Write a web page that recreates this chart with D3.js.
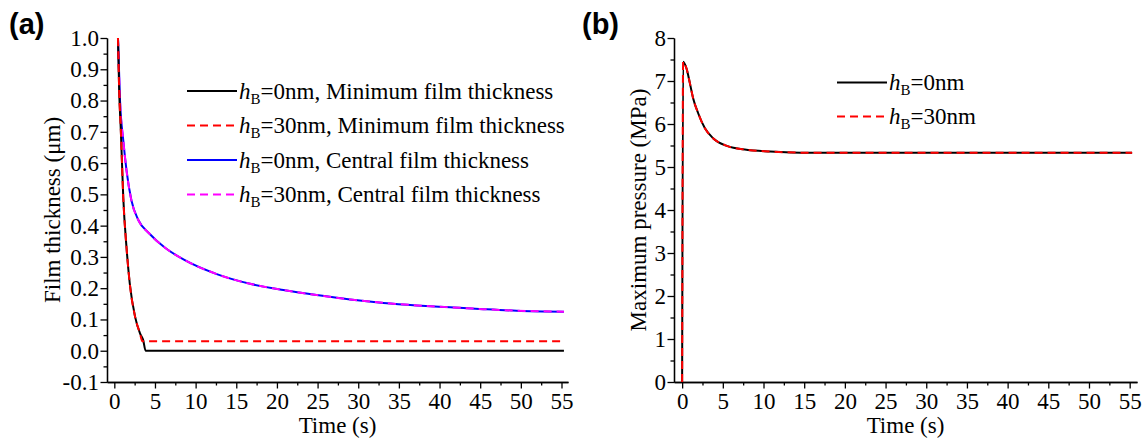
<!DOCTYPE html>
<html>
<head>
<meta charset="utf-8"/>
<title>Film thickness and maximum pressure</title>
<script src="https://d3js.org/d3.v7.min.js"></script>
<style>
  body { margin: 0; background: white; }
  svg { display: block; }
  text { font-family: "Liberation Serif", "Times New Roman", serif; fill: black; }
  .axis path, .axis line { stroke: black; stroke-width: 1.3; }
  .axis text { font-size: 23px; font-family: "Liberation Serif", serif; }
  .panel { font-family: "Liberation Sans", Arial, sans-serif; font-weight: bold; font-size: 29px; }
</style>
</head>
<body>
<svg id="chart" width="1143" height="439"></svg>
<script>
// ---- data ----
// (a) minimum film thickness
var tMin0  = [0.45, 0.6, 0.8, 1.1, 1.5, 1.9, 2.55, 3.15, 3.55, 3.85, 55.3];
var hMin0  = [1.0, 0.83, 0.705, 0.49, 0.33, 0.215, 0.109, 0.056, 0.034, 0.0, 0.0];
var tMin30 = [0.45, 0.6, 0.8, 1.1, 1.5, 1.9, 2.55, 3.15, 3.45, 55.3];
var hMin30 = [1.0, 0.83, 0.705, 0.49, 0.33, 0.215, 0.109, 0.056, 0.03, 0.03];
// (a) central film thickness (both cases overlap)
var tCen   = [0.45, 0.7, 1.1, 1.5, 2.1, 2.95, 4.3, 6.2, 8.5, 12.6, 16.7, 20.8, 24.9, 29, 33.1, 37.2, 41.3, 45.4, 49.5, 55.3];
var hCen0  = [1.0, 0.80, 0.673, 0.577, 0.481, 0.418, 0.375, 0.330, 0.292, 0.245, 0.214, 0.194, 0.178, 0.164, 0.153, 0.145, 0.139, 0.133, 0.128, 0.125];
var hCen30 = [1.0, 0.80, 0.673, 0.577, 0.481, 0.418, 0.375, 0.330, 0.292, 0.245, 0.214, 0.194, 0.178, 0.164, 0.153, 0.145, 0.139, 0.133, 0.128, 0.125];
// (b) maximum pressure
var tP     = [0, 0.12, 0.54, 0.95, 1.35, 1.97, 2.8, 3.8, 5.5, 7.9, 10.8, 15.7, 55.3];
var pMax0  = [0, 7.45, 7.29, 6.95, 6.60, 6.25, 5.90, 5.67, 5.49, 5.40, 5.36, 5.33, 5.33];
var pMax30 = [0, 7.45, 7.29, 6.95, 6.60, 6.25, 5.90, 5.67, 5.49, 5.40, 5.36, 5.33, 5.33];

var xTicks  = [0, 5, 10, 15, 20, 25, 30, 35, 40, 45, 50, 55];
var yTicksA = [-0.1, 0.0, 0.1, 0.2, 0.3, 0.4, 0.5, 0.6, 0.7, 0.8, 0.9, 1.0];
var yTicksB = [0, 1, 2, 3, 4, 5, 6, 7, 8];

var legendA = [
  {sub: "=0nm, Minimum film thickness", color: "#000000", dash: null},
  {sub: "=30nm, Minimum film thickness", color: "#ff0000", dash: "8,5"},
  {sub: "=0nm, Central film thickness", color: "#0000ff", dash: null},
  {sub: "=30nm, Central film thickness", color: "#ff00ff", dash: "8,5"}
];
var legendB = [
  {sub: "=0nm", color: "#000000", dash: null},
  {sub: "=30nm", color: "#ff0000", dash: "8,5"}
];

var svg = d3.select("#chart");
var plotTop = 38, plotBottom = 382;

function zip(t, v) { return t.map((d, i) => [d, v[i]]); }

function drawPanel(o) {
  var x = d3.scaleLinear(o.xDomain, o.xRange);
  var y = d3.scaleLinear(o.yDomain, [plotBottom, plotTop]);
  var g = svg.append("g");

  // minor ticks
  var xMinor = d3.range(2.5, 56, 5);
  g.append("g").attr("class", "axis").attr("transform", "translate(0," + plotBottom + ")")
    .call(d3.axisBottom(x).tickValues(xMinor).tickSize(3.5).tickSizeOuter(0).tickFormat(""));
  g.append("g").attr("class", "axis").attr("transform", "translate(" + o.xRange[0] + ",0)")
    .call(d3.axisLeft(y).tickValues(o.yMinor).tickSize(3.5).tickSizeOuter(0).tickFormat(""));

  // major axes
  var gx = g.append("g").attr("class", "axis").attr("transform", "translate(0," + plotBottom + ")")
    .call(d3.axisBottom(x).tickValues(xTicks).tickSize(6.5).tickSizeOuter(0));
  gx.selectAll("text").attr("y", 11);
  var gy = g.append("g").attr("class", "axis").attr("transform", "translate(" + o.xRange[0] + ",0)")
    .call(d3.axisLeft(y).tickValues(o.yTicks).tickSize(6.5).tickSizeOuter(0).tickFormat(o.fmt));
  gy.selectAll("text").attr("x", -8);

  // titles
  g.append("text").attr("x", (o.xRange[0] + o.xRange[1]) / 2).attr("y", 433)
    .attr("text-anchor", "middle").attr("font-size", 23).text("Time (s)");
  g.append("text").attr("transform", "translate(" + o.yTitleX + "," + (plotTop + plotBottom) / 2 + ") rotate(-90)")
    .attr("text-anchor", "middle").attr("font-size", 23).text(o.yTitle);
  g.append("text").attr("class", "panel").attr("x", o.panelX).attr("y", 34).text(o.panel);

  // lines
  var line = d3.line().x(d => x(d[0])).y(d => y(d[1])).curve(d3.curveMonotoneX);
  o.series.forEach(function(s) {
    g.append("path").datum(zip(s.t, s.v))
      .attr("fill", "none").attr("stroke", s.color).attr("stroke-width", 2)
      .attr("stroke-dasharray", s.dash).attr("d", line);
  });

  // legend
  o.legend.forEach(function(l, i) {
    var ly = o.legY + i * o.legStep;
    g.append("line").attr("x1", o.legX).attr("x2", o.legX + 50).attr("y1", ly).attr("y2", ly)
      .attr("stroke", l.color).attr("stroke-width", 2).attr("stroke-dasharray", l.dash);
    var t = g.append("text").attr("x", o.legX + 52).attr("y", ly + 7.5).attr("font-size", 23);
    t.append("tspan").attr("font-style", "italic").text("h");
    t.append("tspan").attr("font-size", 15).attr("dy", 5).text("B");
    t.append("tspan").attr("dy", -5).text(l.sub);
  });
}

drawPanel({
  xDomain: [-0.9, 55.8], xRange: [107, 568],
  yDomain: [-0.1, 1.0], yTicks: yTicksA, yMinor: d3.range(-0.05, 1.0, 0.1),
  fmt: d => d.toFixed(1),
  yTitle: "Film thickness (μm)", yTitleX: 60,
  panel: "(a)", panelX: 9,
  series: [
    {t: tCen, v: hCen0, color: "#0000ff", dash: null},
    {t: tCen, v: hCen30, color: "#ff00ff", dash: "8,5"},
    {t: tMin0, v: hMin0, color: "#000000", dash: null},
    {t: tMin30, v: hMin30, color: "#ff0000", dash: "8,5"}
  ],
  legend: legendA, legX: 187, legY: 91, legStep: 34.5
});

drawPanel({
  xDomain: [-1.0, 55.9], xRange: [674, 1137],
  yDomain: [0, 8], yTicks: yTicksB, yMinor: d3.range(0.5, 8, 1),
  fmt: d => String(d),
  yTitle: "Maximum pressure (MPa)", yTitleX: 646,
  panel: "(b)", panelX: 582,
  series: [
    {t: tP, v: pMax0, color: "#000000", dash: null},
    {t: tP, v: pMax30, color: "#ff0000", dash: "8,5"}
  ],
  legend: legendB, legX: 837, legY: 82.5, legStep: 34
});
</script>
</body>
</html>
